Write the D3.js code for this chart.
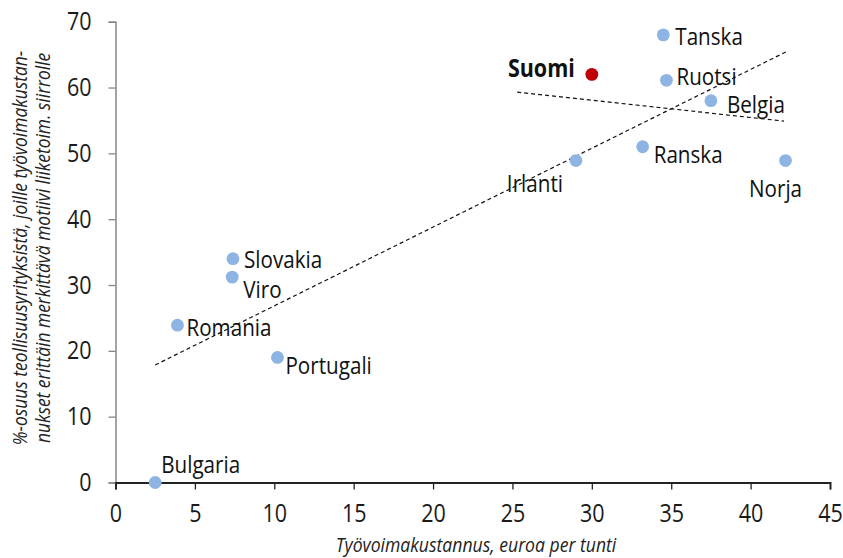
<!DOCTYPE html>
<html><head><meta charset="utf-8">
<script src="https://cdn.jsdelivr.net/npm/d3@7"></script>
<style>body{margin:0;background:#fff}svg{display:block}</style>
</head><body><svg id="c" width="843" height="558"></svg>
<script>
const countries = ["Tanska","Suomi","Ruotsi","Belgia","Irlanti","Ranska","Norja","Slovakia","Viro","Romania","Portugali","Bulgaria"];
const laborCost = [34.5,30.0,34.7,37.5,29.0,33.2,42.2,7.4,7.35,3.9,10.2,2.5];
const sharePct  = [68,62,61.1,58,48.9,51,48.9,34,31.2,23.9,19,0];
const trend1 = [[2.5,17.85],[42.3,65.5]];
const trend2 = [[25.3,59.3],[42.1,54.9]];
const xTicks = [0,5,10,15,20,25,30,35,40,45];
const yTicks = [0,10,20,30,40,50,60,70];
const yTitle = ["%-osuus teollisuusyrityksistä, joille työvoimakustan-","nukset erittäin merkittävä motiivi liiketoim. siirrolle"];
const xTitle = "Työvoimakustannus, euroa per tunti";
// label placement offsets [dx, dy, anchor]
const labelPos = {
 Tanska:[12,10,"start"], Suomi:[-17,3,"end"], Ruotsi:[10,5,"start"], Belgia:[16,12,"start"],
 Irlanti:[-13,31,"end"], Ranska:[11,16,"start"], Norja:[-10,36,"middle"], Slovakia:[11,9,"start"],
 Viro:[11,21,"start"], Romania:[9,11,"start"], Portugali:[8,17,"start"], Bulgaria:[6,-10,"start"]
};
const font = "'Open Sans',sans-serif";
const SX = 0.86;
const svg = d3.select("#c");
const x = d3.scaleLinear().domain([0,45]).range([115.5,830]);
const y = d3.scaleLinear().domain([0,70]).range([482.5,21.7]);

function squeeze(sel){
  sel.each(function(){
    const t = d3.select(this);
    const xv = +(t.attr("x")||0);
    t.attr("x",0).attr("transform",`translate(${xv},0) scale(${SX},1)`);
  });
}

const gy = svg.append("g").attr("transform",`translate(${x(0)},0)`)
 .call(d3.axisLeft(y).tickValues(yTicks).tickSize(7).tickPadding(17));
gy.select(".domain").attr("stroke","#868686").attr("stroke-width",1.5);
gy.selectAll(".tick line").attr("stroke","#868686").attr("stroke-width",1.3);
gy.selectAll("text").attr("font-family",font).attr("font-size",25).attr("fill","#1a1a1a").call(squeeze);

const gx = svg.append("g").attr("transform",`translate(0,${y(0)})`)
 .call(d3.axisBottom(x).tickValues(xTicks).tickSize(7).tickPadding(15));
gx.select(".domain").attr("stroke","#222").attr("stroke-width",1.8);
gx.selectAll(".tick line").attr("stroke","#222").attr("stroke-width",1.3);
gx.selectAll("text").attr("font-family",font).attr("font-size",25).attr("fill","#1a1a1a").call(squeeze);

const line = d3.line().x(d=>x(d[0])).y(d=>y(d[1]));
[trend1,trend2].forEach(t=>svg.append("path").attr("d",line(t)).attr("fill","none")
 .attr("stroke","#111").attr("stroke-width",1.2).attr("stroke-dasharray","4,3"));

const data = countries.map((c,i)=>({c, x:laborCost[i], y:sharePct[i]}));
svg.append("g").selectAll("circle").data(data).join("circle")
 .attr("cx",d=>x(d.x)).attr("cy",d=>y(d.y)).attr("r",6.4)
 .attr("fill",d=>d.c==="Suomi"?"#c00000":"#8eb4e3");
svg.append("g").selectAll("text").data(data).join("text")
 .attr("transform",d=>`translate(${x(d.x)+labelPos[d.c][0]},${y(d.y)+labelPos[d.c][1]}) scale(${SX},1)`)
 .attr("text-anchor",d=>labelPos[d.c][2])
 .attr("font-family",font).attr("font-size",d=>d.c==="Suomi"?25:24)
 .attr("font-weight",d=>d.c==="Suomi"?"bold":"normal").attr("fill","#111")
 .text(d=>d.c);

const yt = svg.append("text").attr("transform",`translate(27,248) rotate(-90) scale(${SX+0.01},1)`)
 .attr("text-anchor","middle").attr("font-family",font).attr("font-size",20)
 .attr("font-style","italic").attr("fill","#222");
yTitle.forEach((l,i)=>yt.append("tspan").attr("x",0).attr("dy",i?23:0).text(l));
svg.append("text").attr("transform",`translate(476,552) scale(${SX+0.02},1)`).attr("text-anchor","middle")
 .attr("font-family",font).attr("font-size",20).attr("font-style","italic").attr("fill","#222").text(xTitle);
</script></body></html>
